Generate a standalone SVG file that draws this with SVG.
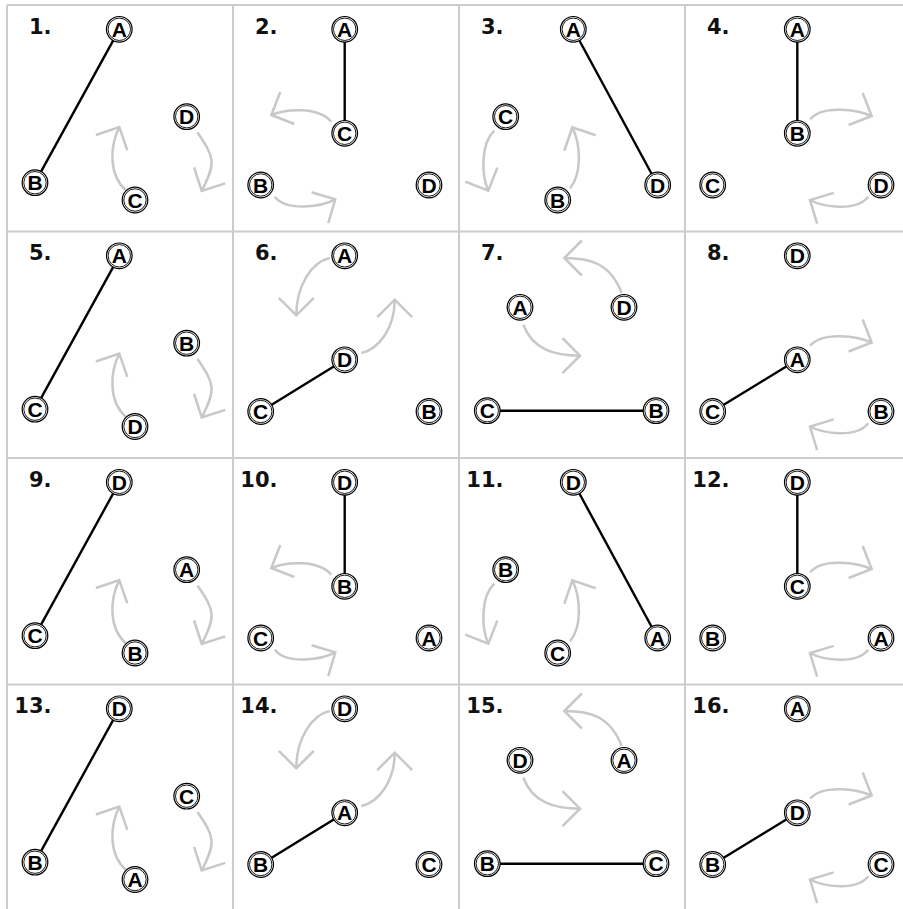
<svg xmlns="http://www.w3.org/2000/svg" width="903" height="909" viewBox="0 0 903 909">
<style>
.grid line{stroke:#cccccc;stroke-width:2}
.num{font-family:"DejaVu Sans","Liberation Sans",sans-serif;font-weight:bold;font-size:21px;fill:#111;text-anchor:end}
.edge{stroke:#000;stroke-width:2.4;fill:none}
.arr{stroke:#c8c8c8;stroke-width:2.5;fill:none;marker-end:url(#ah)}
.node circle.o{fill:#fff;stroke:#000;stroke-width:1.2}
.node circle.i{fill:none;stroke:#000;stroke-width:0.9}
.node text{font-family:"Liberation Sans",Arial,sans-serif;font-weight:bold;font-size:21px;fill:#000;text-anchor:middle}
</style>
<defs>
<marker id="ah" markerWidth="40" markerHeight="40" viewBox="-30 -20 40 40" refX="0" refY="0" orient="auto" markerUnits="userSpaceOnUse" overflow="visible">
<path d="M-17.5,-17.5 L0,0 L-17.5,17.5" fill="none" stroke="#c8c8c8" stroke-width="2.5"/>
</marker>
</defs>
<rect width="903" height="909" fill="#fff"/>
<g class="grid">
<line x1="7" y1="5" x2="7" y2="909"/>
<line x1="233" y1="5" x2="233" y2="909"/>
<line x1="459" y1="5" x2="459" y2="909"/>
<line x1="685" y1="5" x2="685" y2="909"/>
<line x1="7" y1="5" x2="903" y2="5"/>
<line x1="7" y1="231.5" x2="903" y2="231.5"/>
<line x1="7" y1="458" x2="903" y2="458"/>
<line x1="7" y1="684.5" x2="903" y2="684.5"/>
</g>

<!-- Cell 1 -->
<g id="cell1">
<text class="num" x="51.5" y="33.5">1.</text>
<g class="connectors"><line class="edge" x1="119.3" y1="29.3" x2="35" y2="182.7"/><path class="arr" d="M126.5,191 C108,175 110,146 119.3,127"/><path class="arr" d="M197.5,132.5 C215,158 216,163 201.7,191"/></g>
<g id="c1-A" class="node"><circle class="o" cx="119.3" cy="29.3" r="12.8"/><circle class="i" cx="119.3" cy="29.3" r="11.2"/><text x="119.3" y="36.8">A</text></g>
<g id="c1-B" class="node"><circle class="o" cx="35" cy="182.7" r="12.8"/><circle class="i" cx="35" cy="182.7" r="11.2"/><text x="35" y="190.2">B</text></g>
<g id="c1-C" class="node"><circle class="o" cx="135" cy="200" r="12.8"/><circle class="i" cx="135" cy="200" r="11.2"/><text x="135" y="207.5">C</text></g>
<g id="c1-D" class="node"><circle class="o" cx="186.7" cy="116.7" r="12.8"/><circle class="i" cx="186.7" cy="116.7" r="11.2"/><text x="186.7" y="124.2">D</text></g>
</g>

<!-- Cell 2 -->
<g id="cell2">
<text class="num" x="277.5" y="33.5">2.</text>
<g class="connectors"><line class="edge" x1="344.7" y1="29.3" x2="344.7" y2="133.3"/><path class="arr" d="M331.3,121.7 C318,106 285,109 271.3,115"/><path class="arr" d="M274.7,196.7 C287,212 322,206.5 335.3,199.3"/></g>
<g id="c2-A" class="node"><circle class="o" cx="344.7" cy="29.3" r="12.8"/><circle class="i" cx="344.7" cy="29.3" r="11.2"/><text x="344.7" y="36.8">A</text></g>
<g id="c2-C" class="node"><circle class="o" cx="344.7" cy="133.3" r="12.8"/><circle class="i" cx="344.7" cy="133.3" r="11.2"/><text x="344.7" y="140.8">C</text></g>
<g id="c2-B" class="node"><circle class="o" cx="260.7" cy="185" r="12.8"/><circle class="i" cx="260.7" cy="185" r="11.2"/><text x="260.7" y="192.5">B</text></g>
<g id="c2-D" class="node"><circle class="o" cx="429" cy="185" r="12.8"/><circle class="i" cx="429" cy="185" r="11.2"/><text x="429" y="192.5">D</text></g>
</g>

<!-- Cell 3 -->
<g id="cell3">
<text class="num" x="503.5" y="33.5">3.</text>
<g class="connectors"><line class="edge" x1="573.3" y1="29.3" x2="657.7" y2="185"/><path class="arr" d="M494.3,130.7 C481,143 481,174 488.3,190.7"/><path class="arr" d="M570,188.3 C582,174 581,145 572.3,127.3"/></g>
<g id="c3-A" class="node"><circle class="o" cx="573.3" cy="29.3" r="12.8"/><circle class="i" cx="573.3" cy="29.3" r="11.2"/><text x="573.3" y="36.8">A</text></g>
<g id="c3-C" class="node"><circle class="o" cx="505.7" cy="116.7" r="12.8"/><circle class="i" cx="505.7" cy="116.7" r="11.2"/><text x="505.7" y="124.2">C</text></g>
<g id="c3-B" class="node"><circle class="o" cx="557.7" cy="200" r="12.8"/><circle class="i" cx="557.7" cy="200" r="11.2"/><text x="557.7" y="207.5">B</text></g>
<g id="c3-D" class="node"><circle class="o" cx="657.7" cy="185" r="12.8"/><circle class="i" cx="657.7" cy="185" r="11.2"/><text x="657.7" y="192.5">D</text></g>
</g>

<!-- Cell 4 -->
<g id="cell4">
<text class="num" x="729.5" y="33.5">4.</text>
<g class="connectors"><line class="edge" x1="797.3" y1="29.3" x2="797.3" y2="133.3"/><path class="arr" d="M810,119.3 C823,104 858,110 871.7,116"/><path class="arr" d="M868.3,196.7 C856,212 823,207 810,200"/></g>
<g id="c4-A" class="node"><circle class="o" cx="797.3" cy="29.3" r="12.8"/><circle class="i" cx="797.3" cy="29.3" r="11.2"/><text x="797.3" y="36.8">A</text></g>
<g id="c4-B" class="node"><circle class="o" cx="797.3" cy="133.3" r="12.8"/><circle class="i" cx="797.3" cy="133.3" r="11.2"/><text x="797.3" y="140.8">B</text></g>
<g id="c4-C" class="node"><circle class="o" cx="712.7" cy="185" r="12.8"/><circle class="i" cx="712.7" cy="185" r="11.2"/><text x="712.7" y="192.5">C</text></g>
<g id="c4-D" class="node"><circle class="o" cx="881" cy="185" r="12.8"/><circle class="i" cx="881" cy="185" r="11.2"/><text x="881" y="192.5">D</text></g>
</g>

<!-- Cell 5 -->
<g id="cell5" transform="translate(0,226.5)">
<text class="num" x="51.5" y="33.5">5.</text>
<g class="connectors"><line class="edge" x1="119.3" y1="29.3" x2="35" y2="182.7"/><path class="arr" d="M126.5,191 C108,175 110,146 119.3,127"/><path class="arr" d="M197.5,132.5 C215,158 216,163 201.7,191"/></g>
<g id="c5-A" class="node"><circle class="o" cx="119.3" cy="29.3" r="12.8"/><circle class="i" cx="119.3" cy="29.3" r="11.2"/><text x="119.3" y="36.8">A</text></g>
<g id="c5-C" class="node"><circle class="o" cx="35" cy="182.7" r="12.8"/><circle class="i" cx="35" cy="182.7" r="11.2"/><text x="35" y="190.2">C</text></g>
<g id="c5-D" class="node"><circle class="o" cx="135" cy="200" r="12.8"/><circle class="i" cx="135" cy="200" r="11.2"/><text x="135" y="207.5">D</text></g>
<g id="c5-B" class="node"><circle class="o" cx="186.7" cy="116.7" r="12.8"/><circle class="i" cx="186.7" cy="116.7" r="11.2"/><text x="186.7" y="124.2">B</text></g>
</g>

<!-- Cell 6 -->
<g id="cell6" transform="translate(0,226.5)">
<text class="num" x="277.5" y="33.5">6.</text>
<g class="connectors"><line class="edge" x1="344.7" y1="133.3" x2="260.7" y2="185"/><path class="arr" d="M329.7,31.5 C312,35.5 296.3,58.5 296.3,88.8"/><path class="arr" d="M361.3,126.5 C379,122.5 394.7,101.5 394.7,73.2"/></g>
<g id="c6-A" class="node"><circle class="o" cx="344.7" cy="29.3" r="12.8"/><circle class="i" cx="344.7" cy="29.3" r="11.2"/><text x="344.7" y="36.8">A</text></g>
<g id="c6-D" class="node"><circle class="o" cx="344.7" cy="133.3" r="12.8"/><circle class="i" cx="344.7" cy="133.3" r="11.2"/><text x="344.7" y="140.8">D</text></g>
<g id="c6-C" class="node"><circle class="o" cx="260.7" cy="185" r="12.8"/><circle class="i" cx="260.7" cy="185" r="11.2"/><text x="260.7" y="192.5">C</text></g>
<g id="c6-B" class="node"><circle class="o" cx="429" cy="185" r="12.8"/><circle class="i" cx="429" cy="185" r="11.2"/><text x="429" y="192.5">B</text></g>
</g>

<!-- Cell 7 -->
<g id="cell7" transform="translate(0,226.5)">
<text class="num" x="503.5" y="33.5">7.</text>
<g class="connectors"><line class="edge" x1="487.3" y1="184.2" x2="656" y2="184.2"/><path class="arr" d="M621.7,66.5 C610,36.5 590,31.5 564.3,31.5"/><path class="arr" d="M523.3,98.2 C533,123.5 555,129.2 580,129.2"/></g>
<g id="c7-A" class="node"><circle class="o" cx="520" cy="80.8" r="12.8"/><circle class="i" cx="520" cy="80.8" r="11.2"/><text x="520" y="88.3">A</text></g>
<g id="c7-D" class="node"><circle class="o" cx="624" cy="80.8" r="12.8"/><circle class="i" cx="624" cy="80.8" r="11.2"/><text x="624" y="88.3">D</text></g>
<g id="c7-C" class="node"><circle class="o" cx="487.3" cy="184.2" r="12.8"/><circle class="i" cx="487.3" cy="184.2" r="11.2"/><text x="487.3" y="191.7">C</text></g>
<g id="c7-B" class="node"><circle class="o" cx="656" cy="184.2" r="12.8"/><circle class="i" cx="656" cy="184.2" r="11.2"/><text x="656" y="191.7">B</text></g>
</g>

<!-- Cell 8 -->
<g id="cell8" transform="translate(0,226.5)">
<text class="num" x="729.5" y="33.5">8.</text>
<g class="connectors"><line class="edge" x1="712.7" y1="185" x2="797.3" y2="133.3"/><path class="arr" d="M810,119.3 C823,104 858,110 871.7,116"/><path class="arr" d="M868.3,196.7 C856,212 823,207 810,200"/></g>
<g id="c8-D" class="node"><circle class="o" cx="797.3" cy="29.3" r="12.8"/><circle class="i" cx="797.3" cy="29.3" r="11.2"/><text x="797.3" y="36.8">D</text></g>
<g id="c8-A" class="node"><circle class="o" cx="797.3" cy="133.3" r="12.8"/><circle class="i" cx="797.3" cy="133.3" r="11.2"/><text x="797.3" y="140.8">A</text></g>
<g id="c8-C" class="node"><circle class="o" cx="712.7" cy="185" r="12.8"/><circle class="i" cx="712.7" cy="185" r="11.2"/><text x="712.7" y="192.5">C</text></g>
<g id="c8-B" class="node"><circle class="o" cx="881" cy="185" r="12.8"/><circle class="i" cx="881" cy="185" r="11.2"/><text x="881" y="192.5">B</text></g>
</g>

<!-- Cell 9 -->
<g id="cell9" transform="translate(0,453)">
<text class="num" x="51.5" y="33.5">9.</text>
<g class="connectors"><line class="edge" x1="119.3" y1="29.3" x2="35" y2="182.7"/><path class="arr" d="M126.5,191 C108,175 110,146 119.3,127"/><path class="arr" d="M197.5,132.5 C215,158 216,163 201.7,191"/></g>
<g id="c9-D" class="node"><circle class="o" cx="119.3" cy="29.3" r="12.8"/><circle class="i" cx="119.3" cy="29.3" r="11.2"/><text x="119.3" y="36.8">D</text></g>
<g id="c9-C" class="node"><circle class="o" cx="35" cy="182.7" r="12.8"/><circle class="i" cx="35" cy="182.7" r="11.2"/><text x="35" y="190.2">C</text></g>
<g id="c9-B" class="node"><circle class="o" cx="135" cy="200" r="12.8"/><circle class="i" cx="135" cy="200" r="11.2"/><text x="135" y="207.5">B</text></g>
<g id="c9-A" class="node"><circle class="o" cx="186.7" cy="116.7" r="12.8"/><circle class="i" cx="186.7" cy="116.7" r="11.2"/><text x="186.7" y="124.2">A</text></g>
</g>

<!-- Cell 10 -->
<g id="cell10" transform="translate(0,453)">
<text class="num" x="277.5" y="33.5">10.</text>
<g class="connectors"><line class="edge" x1="344.7" y1="29.3" x2="344.7" y2="133.3"/><path class="arr" d="M331.3,121.7 C318,106 285,109 271.3,115"/><path class="arr" d="M274.7,196.7 C287,212 322,206.5 335.3,199.3"/></g>
<g id="c10-D" class="node"><circle class="o" cx="344.7" cy="29.3" r="12.8"/><circle class="i" cx="344.7" cy="29.3" r="11.2"/><text x="344.7" y="36.8">D</text></g>
<g id="c10-B" class="node"><circle class="o" cx="344.7" cy="133.3" r="12.8"/><circle class="i" cx="344.7" cy="133.3" r="11.2"/><text x="344.7" y="140.8">B</text></g>
<g id="c10-C" class="node"><circle class="o" cx="260.7" cy="185" r="12.8"/><circle class="i" cx="260.7" cy="185" r="11.2"/><text x="260.7" y="192.5">C</text></g>
<g id="c10-A" class="node"><circle class="o" cx="429" cy="185" r="12.8"/><circle class="i" cx="429" cy="185" r="11.2"/><text x="429" y="192.5">A</text></g>
</g>

<!-- Cell 11 -->
<g id="cell11" transform="translate(0,453)">
<text class="num" x="503.5" y="33.5">11.</text>
<g class="connectors"><line class="edge" x1="573.3" y1="29.3" x2="657.7" y2="185"/><path class="arr" d="M494.3,130.7 C481,143 481,174 488.3,190.7"/><path class="arr" d="M570,188.3 C582,174 581,145 572.3,127.3"/></g>
<g id="c11-D" class="node"><circle class="o" cx="573.3" cy="29.3" r="12.8"/><circle class="i" cx="573.3" cy="29.3" r="11.2"/><text x="573.3" y="36.8">D</text></g>
<g id="c11-B" class="node"><circle class="o" cx="505.7" cy="116.7" r="12.8"/><circle class="i" cx="505.7" cy="116.7" r="11.2"/><text x="505.7" y="124.2">B</text></g>
<g id="c11-C" class="node"><circle class="o" cx="557.7" cy="200" r="12.8"/><circle class="i" cx="557.7" cy="200" r="11.2"/><text x="557.7" y="207.5">C</text></g>
<g id="c11-A" class="node"><circle class="o" cx="657.7" cy="185" r="12.8"/><circle class="i" cx="657.7" cy="185" r="11.2"/><text x="657.7" y="192.5">A</text></g>
</g>

<!-- Cell 12 -->
<g id="cell12" transform="translate(0,453)">
<text class="num" x="729.5" y="33.5">12.</text>
<g class="connectors"><line class="edge" x1="797.3" y1="29.3" x2="797.3" y2="133.3"/><path class="arr" d="M810,119.3 C823,104 858,110 871.7,116"/><path class="arr" d="M868.3,196.7 C856,212 823,207 810,200"/></g>
<g id="c12-D" class="node"><circle class="o" cx="797.3" cy="29.3" r="12.8"/><circle class="i" cx="797.3" cy="29.3" r="11.2"/><text x="797.3" y="36.8">D</text></g>
<g id="c12-C" class="node"><circle class="o" cx="797.3" cy="133.3" r="12.8"/><circle class="i" cx="797.3" cy="133.3" r="11.2"/><text x="797.3" y="140.8">C</text></g>
<g id="c12-B" class="node"><circle class="o" cx="712.7" cy="185" r="12.8"/><circle class="i" cx="712.7" cy="185" r="11.2"/><text x="712.7" y="192.5">B</text></g>
<g id="c12-A" class="node"><circle class="o" cx="881" cy="185" r="12.8"/><circle class="i" cx="881" cy="185" r="11.2"/><text x="881" y="192.5">A</text></g>
</g>

<!-- Cell 13 -->
<g id="cell13" transform="translate(0,679.5)">
<text class="num" x="51.5" y="33.5">13.</text>
<g class="connectors"><line class="edge" x1="119.3" y1="29.3" x2="35" y2="182.7"/><path class="arr" d="M126.5,191 C108,175 110,146 119.3,127"/><path class="arr" d="M197.5,132.5 C215,158 216,163 201.7,191"/></g>
<g id="c13-D" class="node"><circle class="o" cx="119.3" cy="29.3" r="12.8"/><circle class="i" cx="119.3" cy="29.3" r="11.2"/><text x="119.3" y="36.8">D</text></g>
<g id="c13-B" class="node"><circle class="o" cx="35" cy="182.7" r="12.8"/><circle class="i" cx="35" cy="182.7" r="11.2"/><text x="35" y="190.2">B</text></g>
<g id="c13-A" class="node"><circle class="o" cx="135" cy="200" r="12.8"/><circle class="i" cx="135" cy="200" r="11.2"/><text x="135" y="207.5">A</text></g>
<g id="c13-C" class="node"><circle class="o" cx="186.7" cy="116.7" r="12.8"/><circle class="i" cx="186.7" cy="116.7" r="11.2"/><text x="186.7" y="124.2">C</text></g>
</g>

<!-- Cell 14 -->
<g id="cell14" transform="translate(0,679.5)">
<text class="num" x="277.5" y="33.5">14.</text>
<g class="connectors"><line class="edge" x1="344.7" y1="133.3" x2="260.7" y2="185"/><path class="arr" d="M329.7,31.5 C312,35.5 296.3,58.5 296.3,88.8"/><path class="arr" d="M361.3,126.5 C379,122.5 394.7,101.5 394.7,73.2"/></g>
<g id="c14-D" class="node"><circle class="o" cx="344.7" cy="29.3" r="12.8"/><circle class="i" cx="344.7" cy="29.3" r="11.2"/><text x="344.7" y="36.8">D</text></g>
<g id="c14-A" class="node"><circle class="o" cx="344.7" cy="133.3" r="12.8"/><circle class="i" cx="344.7" cy="133.3" r="11.2"/><text x="344.7" y="140.8">A</text></g>
<g id="c14-B" class="node"><circle class="o" cx="260.7" cy="185" r="12.8"/><circle class="i" cx="260.7" cy="185" r="11.2"/><text x="260.7" y="192.5">B</text></g>
<g id="c14-C" class="node"><circle class="o" cx="429" cy="185" r="12.8"/><circle class="i" cx="429" cy="185" r="11.2"/><text x="429" y="192.5">C</text></g>
</g>

<!-- Cell 15 -->
<g id="cell15" transform="translate(0,679.5)">
<text class="num" x="503.5" y="33.5">15.</text>
<g class="connectors"><line class="edge" x1="487.3" y1="184.2" x2="656" y2="184.2"/><path class="arr" d="M621.7,66.5 C610,36.5 590,31.5 564.3,31.5"/><path class="arr" d="M523.3,98.2 C533,123.5 555,129.2 580,129.2"/></g>
<g id="c15-D" class="node"><circle class="o" cx="520" cy="80.8" r="12.8"/><circle class="i" cx="520" cy="80.8" r="11.2"/><text x="520" y="88.3">D</text></g>
<g id="c15-A" class="node"><circle class="o" cx="624" cy="80.8" r="12.8"/><circle class="i" cx="624" cy="80.8" r="11.2"/><text x="624" y="88.3">A</text></g>
<g id="c15-B" class="node"><circle class="o" cx="487.3" cy="184.2" r="12.8"/><circle class="i" cx="487.3" cy="184.2" r="11.2"/><text x="487.3" y="191.7">B</text></g>
<g id="c15-C" class="node"><circle class="o" cx="656" cy="184.2" r="12.8"/><circle class="i" cx="656" cy="184.2" r="11.2"/><text x="656" y="191.7">C</text></g>
</g>

<!-- Cell 16 -->
<g id="cell16" transform="translate(0,679.5)">
<text class="num" x="729.5" y="33.5">16.</text>
<g class="connectors"><line class="edge" x1="712.7" y1="185" x2="797.3" y2="133.3"/><path class="arr" d="M810,119.3 C823,104 858,110 871.7,116"/><path class="arr" d="M868.3,196.7 C856,212 823,207 810,200"/></g>
<g id="c16-A" class="node"><circle class="o" cx="797.3" cy="29.3" r="12.8"/><circle class="i" cx="797.3" cy="29.3" r="11.2"/><text x="797.3" y="36.8">A</text></g>
<g id="c16-D" class="node"><circle class="o" cx="797.3" cy="133.3" r="12.8"/><circle class="i" cx="797.3" cy="133.3" r="11.2"/><text x="797.3" y="140.8">D</text></g>
<g id="c16-B" class="node"><circle class="o" cx="712.7" cy="185" r="12.8"/><circle class="i" cx="712.7" cy="185" r="11.2"/><text x="712.7" y="192.5">B</text></g>
<g id="c16-C" class="node"><circle class="o" cx="881" cy="185" r="12.8"/><circle class="i" cx="881" cy="185" r="11.2"/><text x="881" y="192.5">C</text></g>
</g>
</svg>
